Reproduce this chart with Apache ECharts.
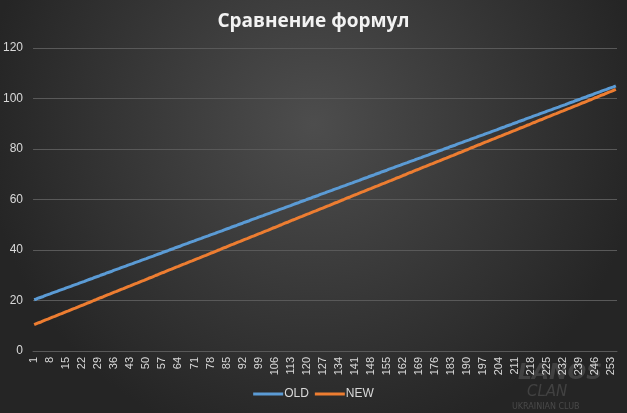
<!DOCTYPE html>
<html>
<head>
<meta charset="utf-8">
<script src="https://cdn.jsdelivr.net/npm/echarts@6/dist/echarts.min.js"></script>
<style>
  html, body { margin: 0; padding: 0; }
  #chart { width: 627px; height: 413px; }
</style>
</head>
<body>
<div id="chart"></div>
<script>
// подписи по оси X: уровни 1..255
var categories = [];
for (var i = 1; i <= 255; i++) categories.push(String(i));

var yTicks = { min: 0, max: 120, step: 20 };

// старая формула
var oldValues = [
  20.3,20.6,21,21.3,21.6,22,22.3,22.6,23,23.3,23.6,24,24.3,24.6,25,
  25.3,25.6,26,26.3,26.6,27,27.3,27.6,28,28.3,28.6,29,29.3,29.6,30,
  30.3,30.6,31,31.3,31.6,32,32.3,32.6,33,33.3,33.6,34,34.3,34.6,35,
  35.3,35.6,36,36.3,36.6,37,37.3,37.6,38,38.3,38.6,39,39.3,39.6,40,
  40.3,40.6,41,41.3,41.6,42,42.3,42.6,43,43.3,43.6,44,44.3,44.6,45,
  45.3,45.6,46,46.3,46.6,47,47.3,47.6,48,48.3,48.6,49,49.3,49.6,50,
  50.3,50.6,51,51.3,51.6,52,52.3,52.6,53,53.3,53.6,54,54.3,54.6,55,
  55.3,55.6,56,56.3,56.6,57,57.3,57.6,58,58.3,58.6,59,59.3,59.6,60,
  60.3,60.6,61,61.3,61.6,62,62.3,62.6,63,63.3,63.6,64,64.3,64.6,65,
  65.3,65.6,66,66.3,66.6,67,67.3,67.6,68,68.3,68.6,69,69.3,69.6,70,
  70.3,70.6,71,71.3,71.6,72,72.3,72.6,73,73.3,73.6,74,74.3,74.6,75,
  75.3,75.6,76,76.3,76.6,77,77.3,77.6,78,78.3,78.6,79,79.3,79.6,80,
  80.3,80.6,81,81.3,81.6,82,82.3,82.6,83,83.3,83.6,84,84.3,84.6,85,
  85.3,85.6,86,86.3,86.6,87,87.3,87.6,88,88.3,88.6,89,89.3,89.6,90,
  90.3,90.6,91,91.3,91.6,92,92.3,92.6,93,93.3,93.6,94,94.3,94.6,95,
  95.3,95.6,96,96.3,96.6,97,97.3,97.6,98,98.3,98.6,99,99.3,99.6,100,
  100.3,100.6,101,101.3,101.6,102,102.3,102.6,103,103.3,103.6,104,104.3,104.6,105
];

// новая формула
var newValues = [
  10.4,10.8,11.2,11.5,11.9,12.3,12.6,13.0,13.4,13.7,14.1,14.5,14.8,15.2,15.6,
  15.9,16.3,16.7,17.0,17.4,17.8,18.1,18.5,18.9,19.2,19.6,20.0,20.3,20.7,21.1,
  21.4,21.8,22.2,22.5,22.9,23.3,23.6,24.0,24.4,24.7,25.1,25.5,25.8,26.2,26.6,
  26.9,27.3,27.7,28.0,28.4,28.8,29.1,29.5,29.9,30.2,30.6,31.0,31.3,31.7,32.1,
  32.4,32.8,33.2,33.5,33.9,34.3,34.6,35.0,35.4,35.7,36.1,36.5,36.8,37.2,37.6,
  37.9,38.3,38.7,39.0,39.4,39.8,40.1,40.5,40.9,41.2,41.6,42.0,42.3,42.7,43.1,
  43.4,43.8,44.2,44.5,44.9,45.3,45.6,46.0,46.4,46.7,47.1,47.5,47.8,48.2,48.6,
  48.9,49.3,49.7,50.0,50.4,50.8,51.1,51.5,51.9,52.2,52.6,53.0,53.3,53.7,54.1,
  54.4,54.8,55.2,55.5,55.9,56.3,56.6,57.0,57.4,57.7,58.1,58.5,58.8,59.2,59.6,
  59.9,60.3,60.7,61.0,61.4,61.8,62.1,62.5,62.9,63.2,63.6,64.0,64.3,64.7,65.1,
  65.4,65.8,66.2,66.5,66.9,67.3,67.6,68.0,68.4,68.7,69.1,69.5,69.8,70.2,70.6,
  70.9,71.3,71.7,72.0,72.4,72.8,73.1,73.5,73.9,74.2,74.6,75.0,75.3,75.7,76.1,
  76.4,76.8,77.2,77.5,77.9,78.3,78.6,79.0,79.4,79.7,80.1,80.5,80.8,81.2,81.6,
  81.9,82.3,82.7,83.0,83.4,83.8,84.1,84.5,84.9,85.2,85.6,86.0,86.3,86.7,87.1,
  87.4,87.8,88.2,88.5,88.9,89.3,89.6,90.0,90.4,90.7,91.1,91.5,91.8,92.2,92.6,
  92.9,93.3,93.7,94.0,94.4,94.8,95.1,95.5,95.9,96.2,96.6,97.0,97.3,97.7,98.1,
  98.4,98.8,99.2,99.5,99.9,100.3,100.6,101.0,101.4,101.7,102.1,102.5,102.8,103.2,103.6
];

var chart = echarts.init(document.getElementById('chart'));

var option = {
    animation: false,
    backgroundColor: {
        type: 'radial', x: 0.5, y: 0.3, r: 0.8,
        colorStops: [
            { offset: 0, color: '#4d4d4d' },
            { offset: 1, color: '#252525' }
        ]
    },
    title: {
        text: 'Сравнение формул',
        left: 'center',
        top: 7,
        textStyle: {
            color: '#f2f2f2',
            fontFamily: 'Open Sans',
            fontWeight: 'bold',
            fontSize: 19
        }
    },
    // водяной знак клуба внизу справа
    graphic: [
        { type: 'text', left: 518, top: 362, z: 0, silent: true,
          style: { text: 'LANOS', fill: 'rgba(140,140,140,0.28)', font: 'bold italic 22px "DejaVu Sans"' } },
        { type: 'text', left: 527, top: 385, z: 0, silent: true,
          style: { text: 'CLAN', fill: 'rgba(140,140,140,0.28)', font: 'italic 15px "DejaVu Sans"' } },
        { type: 'text', left: 512, top: 403, z: 0, silent: true,
          style: { text: 'UKRAINIAN CLUB', fill: 'rgba(140,140,140,0.35)', font: '8px "DejaVu Sans"' } }
    ],
    legend: {
        bottom: 8,
        left: 'center',
        itemWidth: 30,
        itemHeight: 3,
        itemGap: 6,
        icon: 'rect',
        textStyle: { color: '#d9d9d9', fontSize: 12, fontFamily: 'Liberation Sans', padding: [0, 0, 0, -4] },
        data: ['OLD', 'NEW']
    },
    grid: { left: 32, right: 10, top: 48, bottom: 62 },
    xAxis: {
        type: 'category',
        data: categories,
        boundaryGap: true,
        axisLine: { lineStyle: { color: '#595959' } },
        axisTick: { show: false },
        axisLabel: {
            interval: 6,
            rotate: 90,
            color: '#d9d9d9',
            fontSize: 11,
            fontFamily: 'Liberation Sans',
            margin: 6
        }
    },
    yAxis: {
        type: 'value',
        min: yTicks.min,
        max: yTicks.max,
        interval: yTicks.step,
        axisLine: { show: false },
        axisTick: { show: false },
        splitLine: { lineStyle: { color: '#595959', width: 1 } },
        axisLabel: { color: '#d9d9d9', fontSize: 12, fontFamily: 'Liberation Sans', margin: 10 }
    },
    series: [
        {
            name: 'OLD',
            type: 'line',
            data: oldValues,
            showSymbol: false,
            symbol: 'none',
            color: '#5b9bd5',
            lineStyle: { width: 3, color: '#5b9bd5' }
        },
        {
            name: 'NEW',
            type: 'line',
            data: newValues,
            showSymbol: false,
            symbol: 'none',
            color: '#ed7d31',
            lineStyle: { width: 3, color: '#ed7d31' }
        }
    ]
};

chart.setOption(option);
</script>
</body>
</html>
